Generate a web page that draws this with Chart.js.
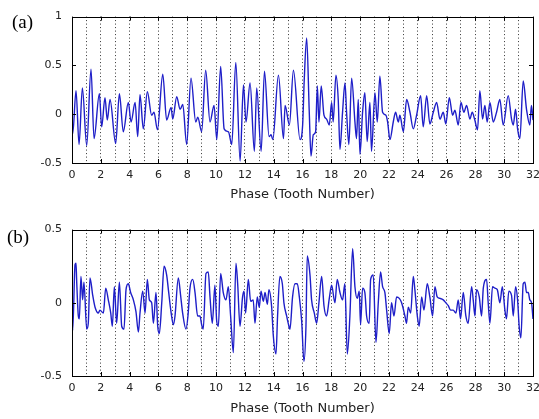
<!DOCTYPE html>
<html>
<head>
<meta charset="utf-8">
<script src="https://cdn.jsdelivr.net/npm/chart.js@4.4.1/dist/chart.umd.min.js"></script>
<style>
  html, body { margin: 0; padding: 0; background: #fff; }
  body { width: 539px; height: 419px; position: relative; overflow: hidden; }
  canvas { position: absolute; left: 0; }
  #chartA { top: 0; }
  #chartB { top: 213px; }
</style>
</head>
<body>
<canvas id="chartA" width="539" height="205"></canvas>
<canvas id="chartB" width="539" height="206"></canvas>
<script>
// signal (a): phase (tooth number) and amplitude
const phaseA = [0, 0.05, 0.28, 0.49, 0.72, 1.02, 1.32, 1.53, 1.90, 2.06, 2.29, 2.45, 2.64, 3.03, 3.29, 3.56,
  3.91, 4.10, 4.38, 4.56, 4.72, 4.95, 5.23, 5.53, 5.69, 5.93, 6.30, 6.57, 6.88, 6.99, 7.27, 7.50,
  7.69, 7.96, 8.26, 8.59, 8.73, 9.00, 9.28, 9.58, 9.86, 10.05, 10.32, 10.56, 10.86, 11.09, 11.37, 11.67,
  11.90, 12.08, 12.36, 12.66, 12.82, 13.13, 13.36, 13.68, 13.82, 13.94, 14.33, 14.68, 14.79, 15.09, 15.37, 15.83,
  16.01, 16.12, 16.29, 16.47, 16.59, 16.75, 16.91, 17.03, 17.14, 17.30, 17.49, 17.67, 17.86, 18.02, 18.13, 18.32,
  18.48, 18.60, 18.78, 18.95, 19.06, 19.22, 19.41, 19.64, 19.75, 19.87, 19.99, 20.17, 20.33, 20.49, 20.68, 20.79,
  21.03, 21.19, 21.37, 21.56, 21.79, 21.91, 22.07, 22.30, 22.46, 22.65, 22.76, 23.00, 23.23, 23.46, 23.69, 23.92,
  24.20, 24.38, 24.62, 24.84, 25.08, 25.31, 25.54, 25.77, 25.95, 26.19, 26.42, 26.58, 26.81, 27.00, 27.20, 27.39,
  27.62, 27.78, 27.96, 28.15, 28.31, 28.50, 28.66, 28.82, 29.01, 29.24, 29.47, 29.70, 29.93, 30.28, 30.51, 30.63,
  30.79, 30.93, 31.09, 31.32, 31.55, 31.78, 31.89, 32.00];
const valueA = [-0.01, -0.20, 0.24, -0.31, 0.27, -0.32, 0.46, -0.25, 0.21, -0.13, 0.17, -0.06, 0.15, -0.30, 0.21, -0.18,
  0.12, -0.08, 0.12, -0.23, 0.20, -0.15, 0.23, -0.01, 0.02, -0.16, 0.41, -0.06, 0.07, -0.05, 0.18, 0.05,
  0.10, -0.31, 0.37, -0.08, -0.03, -0.18, 0.45, -0.08, 0.09, -0.26, 0.49, -0.15, -0.18, -0.31, 0.53, -0.48,
  0.30, -0.08, 0.32, -0.38, 0.27, -0.38, 0.44, -0.23, -0.21, -0.26, 0.40, -0.25, 0.09, -0.11, 0.45, -0.26,
  -0.11, 0.35, 0.78, 0.02, -0.43, -0.21, -0.18, 0.29, -0.08, 0.29, -0.01, -0.05, -0.11, 0.12, -0.08, 0.40,
  0.15, -0.36, 0.02, 0.32, 0.02, -0.31, 0.37, -0.08, -0.25, 0.15, -0.41, 0.02, 0.22, -0.28, 0.12, -0.38,
  0.22, -0.08, 0.39, 0.02, -0.01, -0.08, -0.26, -0.08, 0.02, -0.08, -0.01, -0.18, 0.15, 0.02, -0.15, -0.01,
  0.19, -0.13, 0.19, -0.10, 0.02, 0.12, -0.05, 0.02, -0.10, 0.17, -0.01, 0.04, -0.11, 0.12, 0.02, 0.09,
  -0.05, 0.02, -0.06, -0.16, 0.24, -0.05, 0.09, -0.08, 0.12, -0.08, 0.02, 0.15, -0.11, 0.19, -0.05, -0.11,
  0.05, -0.15, -0.25, 0.34, 0.05, -0.11, 0.09, -0.06];

// signal (b)
const phaseB = [0, 0.05, 0.21, 0.28, 0.32, 0.44, 0.51, 0.62, 0.74, 0.83, 1.02, 1.13, 1.25, 1.44, 1.60, 1.83,
  1.94, 2.18, 2.34, 2.52, 2.69, 2.80, 2.94, 3.10, 3.29, 3.45, 3.61, 3.75, 3.91, 4.07, 4.26, 4.44,
  4.61, 4.72, 4.91, 5.07, 5.23, 5.37, 5.53, 5.65, 5.83, 5.95, 6.06, 6.23, 6.39, 6.57, 6.69, 6.87,
  7.04, 7.15, 7.38, 7.54, 7.68, 7.91, 8.05, 8.19, 8.38, 8.54, 8.72, 8.88, 9.00, 9.11, 9.30, 9.46,
  9.58, 9.74, 9.92, 10.04, 10.16, 10.32, 10.50, 10.69, 10.85, 11.01, 11.20, 11.38, 11.50, 11.66, 11.84, 11.94,
  12.05, 12.24, 12.40, 12.58, 12.70, 12.86, 13.00, 13.12, 13.28, 13.40, 13.56, 13.67, 13.86, 13.97, 14.16, 14.27,
  14.43, 14.60, 14.71, 14.90, 15.01, 15.13, 15.31, 15.48, 15.64, 15.78, 15.94, 16.10, 16.24, 16.33, 16.52, 16.63,
  16.82, 16.98, 17.14, 17.33, 17.49, 17.67, 17.86, 18.02, 18.25, 18.41, 18.60, 18.78, 18.94, 19.11, 19.29, 19.48,
  19.64, 19.80, 19.94, 20.03, 20.17, 20.33, 20.45, 20.63, 20.73, 20.91, 21.10, 21.26, 21.42, 21.56, 21.72, 21.84,
  22.02, 22.18, 22.35, 22.53, 22.72, 22.88, 23.11, 23.22, 23.34, 23.51, 23.69, 23.80, 23.97, 24.10, 24.27, 24.43,
  24.66, 24.84, 25.03, 25.19, 25.35, 25.54, 25.77, 25.95, 26.12, 26.28, 26.46, 26.65, 26.81, 26.97, 27.16, 27.34,
  27.50, 27.74, 27.85, 27.97, 28.08, 28.27, 28.43, 28.55, 28.78, 28.89, 29.01, 29.19, 29.36, 29.52, 29.70, 29.87,
  30.05, 30.16, 30.32, 30.51, 30.63, 30.79, 30.93, 31.04, 31.16, 31.32, 31.44, 31.55, 31.67, 31.78, 31.90, 32.00];
const valueB = [-0.09, -0.19, 0.26, 0.27, 0.16, -0.09, -0.11, 0.18, 0.02, 0.14, -0.18, -0.14, 0.17, 0.05, -0.03, -0.07,
  -0.05, -0.07, 0.10, 0.02, -0.07, -0.16, 0.11, -0.14, 0.14, -0.16, -0.18, 0.09, 0.13, 0.07, 0.02, -0.06,
  -0.20, -0.07, 0.08, -0.07, 0.16, 0.02, 0.00, -0.14, 0.07, -0.16, -0.21, 0.00, 0.25, 0.19, 0.09, -0.06,
  -0.15, -0.09, 0.17, 0.05, -0.07, -0.18, -0.09, 0.10, 0.16, 0.07, -0.09, -0.09, -0.15, -0.18, 0.20, 0.21,
  0.04, -0.14, 0.12, -0.12, -0.16, 0.20, 0.07, 0.02, 0.11, -0.09, -0.34, 0.27, 0.13, -0.16, 0.04, 0.08,
  -0.07, 0.16, 0.01, 0.02, -0.14, 0.04, -0.03, 0.08, 0.01, 0.07, -0.01, 0.09, -0.03, -0.22, -0.35, -0.09,
  0.18, 0.13, 0.00, -0.09, -0.14, -0.18, 0.04, 0.13, 0.13, 0.04, -0.12, -0.40, -0.16, 0.32, 0.19, 0.02,
  -0.07, -0.14, 0.00, 0.18, -0.02, -0.09, 0.03, 0.12, 0.00, 0.16, 0.07, 0.02, 0.13, -0.35, -0.09, 0.37,
  0.11, 0.03, 0.08, -0.15, 0.10, 0.07, -0.09, -0.14, 0.16, 0.19, -0.27, 0.00, 0.21, 0.11, 0.07, -0.05,
  -0.21, 0.00, -0.09, 0.04, 0.03, 0.00, -0.09, -0.14, -0.03, -0.07, 0.18, 0.09, -0.09, -0.16, 0.04, -0.05,
  0.13, 0.04, -0.09, 0.11, 0.04, 0.03, 0.02, 0.00, -0.02, -0.05, -0.05, -0.07, 0.02, -0.11, 0.07, -0.09,
  -0.14, 0.11, 0.02, -0.09, 0.09, 0.04, -0.09, 0.10, 0.16, 0.00, -0.14, 0.11, 0.10, 0.09, 0.00, 0.11,
  -0.05, -0.11, 0.08, 0.05, -0.09, 0.11, 0.02, -0.16, -0.24, 0.13, 0.14, 0.07, 0.07, 0.02, 0.00, -0.11];

const phaseMin = 0;
const phaseMax = 32;
const yRangeA = [-0.5, 1];
const yRangeB = [-0.5, 0.5];
const panelLabels = ["(a)", "(b)"];
const xTitle = "Phase (Tooth Number)";

const tickFont = { family: "'DejaVu Sans', Arial, sans-serif", size: 11 };
const lineColor = "#1e1ec8";

// frame round the plot area, with small inward ticks (matlab style)
const framePlugin = {
  id: "frame",
  afterDraw(chart, args, opts) {
    const { ctx, chartArea: a, scales } = chart;
    ctx.save();
    ctx.strokeStyle = "#000";
    ctx.lineWidth = 1;
    ctx.strokeRect(Math.round(a.left) + 0.5, Math.round(a.top) + 0.5,
      Math.round(a.right - a.left), Math.round(a.bottom - a.top));
    ctx.beginPath();
    scales.x.ticks.forEach(t => {
      if (t.value % 2 !== 0) return;
      const px = Math.round(scales.x.getPixelForValue(t.value)) + 0.5;
      ctx.moveTo(px, a.bottom); ctx.lineTo(px, a.bottom - 4);
      ctx.moveTo(px, a.top); ctx.lineTo(px, a.top + 4);
    });
    scales.y.ticks.forEach(t => {
      const py = Math.round(scales.y.getPixelForValue(t.value)) + 0.5;
      ctx.moveTo(a.left, py); ctx.lineTo(a.left + 4, py);
      ctx.moveTo(a.right, py); ctx.lineTo(a.right - 4, py);
    });
    ctx.stroke();
    ctx.fillStyle = "#000";
    ctx.font = "19px 'Liberation Serif', 'Times New Roman', serif";
    ctx.textBaseline = "middle";
    ctx.textAlign = "left";
    ctx.fillText(opts.label, opts.lx, opts.ly);
    ctx.restore();
  }
};

function makeChart(id, phases, values, yRange, label, lx, ly, topPad, xHeight) {
  const points = phases.map((p, i) => ({ x: p, y: values[i] }));
  return new Chart(document.getElementById(id), {
    type: "line",
    data: {
      datasets: [{
        data: points,
        borderColor: lineColor,
        borderWidth: 1.4,
        pointRadius: 0,
        cubicInterpolationMode: "monotone",
        fill: false,
      }],
    },
    options: {
      responsive: false,
      animation: false,
      devicePixelRatio: 1,
      layout: { padding: { top: topPad, right: 6, left: 0, bottom: 0 } },
      plugins: {
        legend: { display: false },
        tooltip: { enabled: false },
        frame: { label: label, lx: lx, ly: ly },
      },
      scales: {
        x: {
          type: "linear",
          min: phaseMin,
          max: phaseMax,
          afterBuildTicks: (scale) => {
            const t = [];
            for (let v = phaseMin; v <= phaseMax; v++) t.push({ value: v });
            scale.ticks = t;
          },
          afterFit: (scale) => {
            scale.height = xHeight;
            scale.paddingLeft = 0;
            scale.paddingRight = 0;
          },
          ticks: {
            autoSkip: false,
            maxRotation: 0,
            padding: 6,
            color: "#222",
            font: tickFont,
            callback: (v) => (v % 2 === 0 ? String(v) : ""),
          },
          grid: {
            drawTicks: false,
            lineWidth: 1,
            color: (c) => (c.tick && (c.tick.value === phaseMin || c.tick.value === phaseMax) ? "rgba(0,0,0,0)" : "#333"),
          },
          border: { display: false, dash: [1, 2.5] },
          title: {
            display: true,
            text: xTitle,
            color: "#222",
            font: { family: "'DejaVu Sans', Arial, sans-serif", size: 13 },
            padding: { top: 0, bottom: 3 },
          },
        },
        y: {
          min: yRange[0],
          max: yRange[1],
          afterFit: (scale) => { scale.width = 72; },
          ticks: {
            stepSize: 0.5,
            padding: 10,
            color: "#222",
            font: tickFont,
            callback: (v) => String(v),
          },
          grid: { display: false, drawTicks: false },
          border: { display: false },
        },
      },
    },
    plugins: [framePlugin],
  });
}

makeChart("chartA", phaseA, valueA, yRangeA, panelLabels[0], 12, 23, 12, 42);
makeChart("chartB", phaseB, valueB, yRangeB, panelLabels[1], 7, 25, 14, 43);
</script>
</body>
</html>
